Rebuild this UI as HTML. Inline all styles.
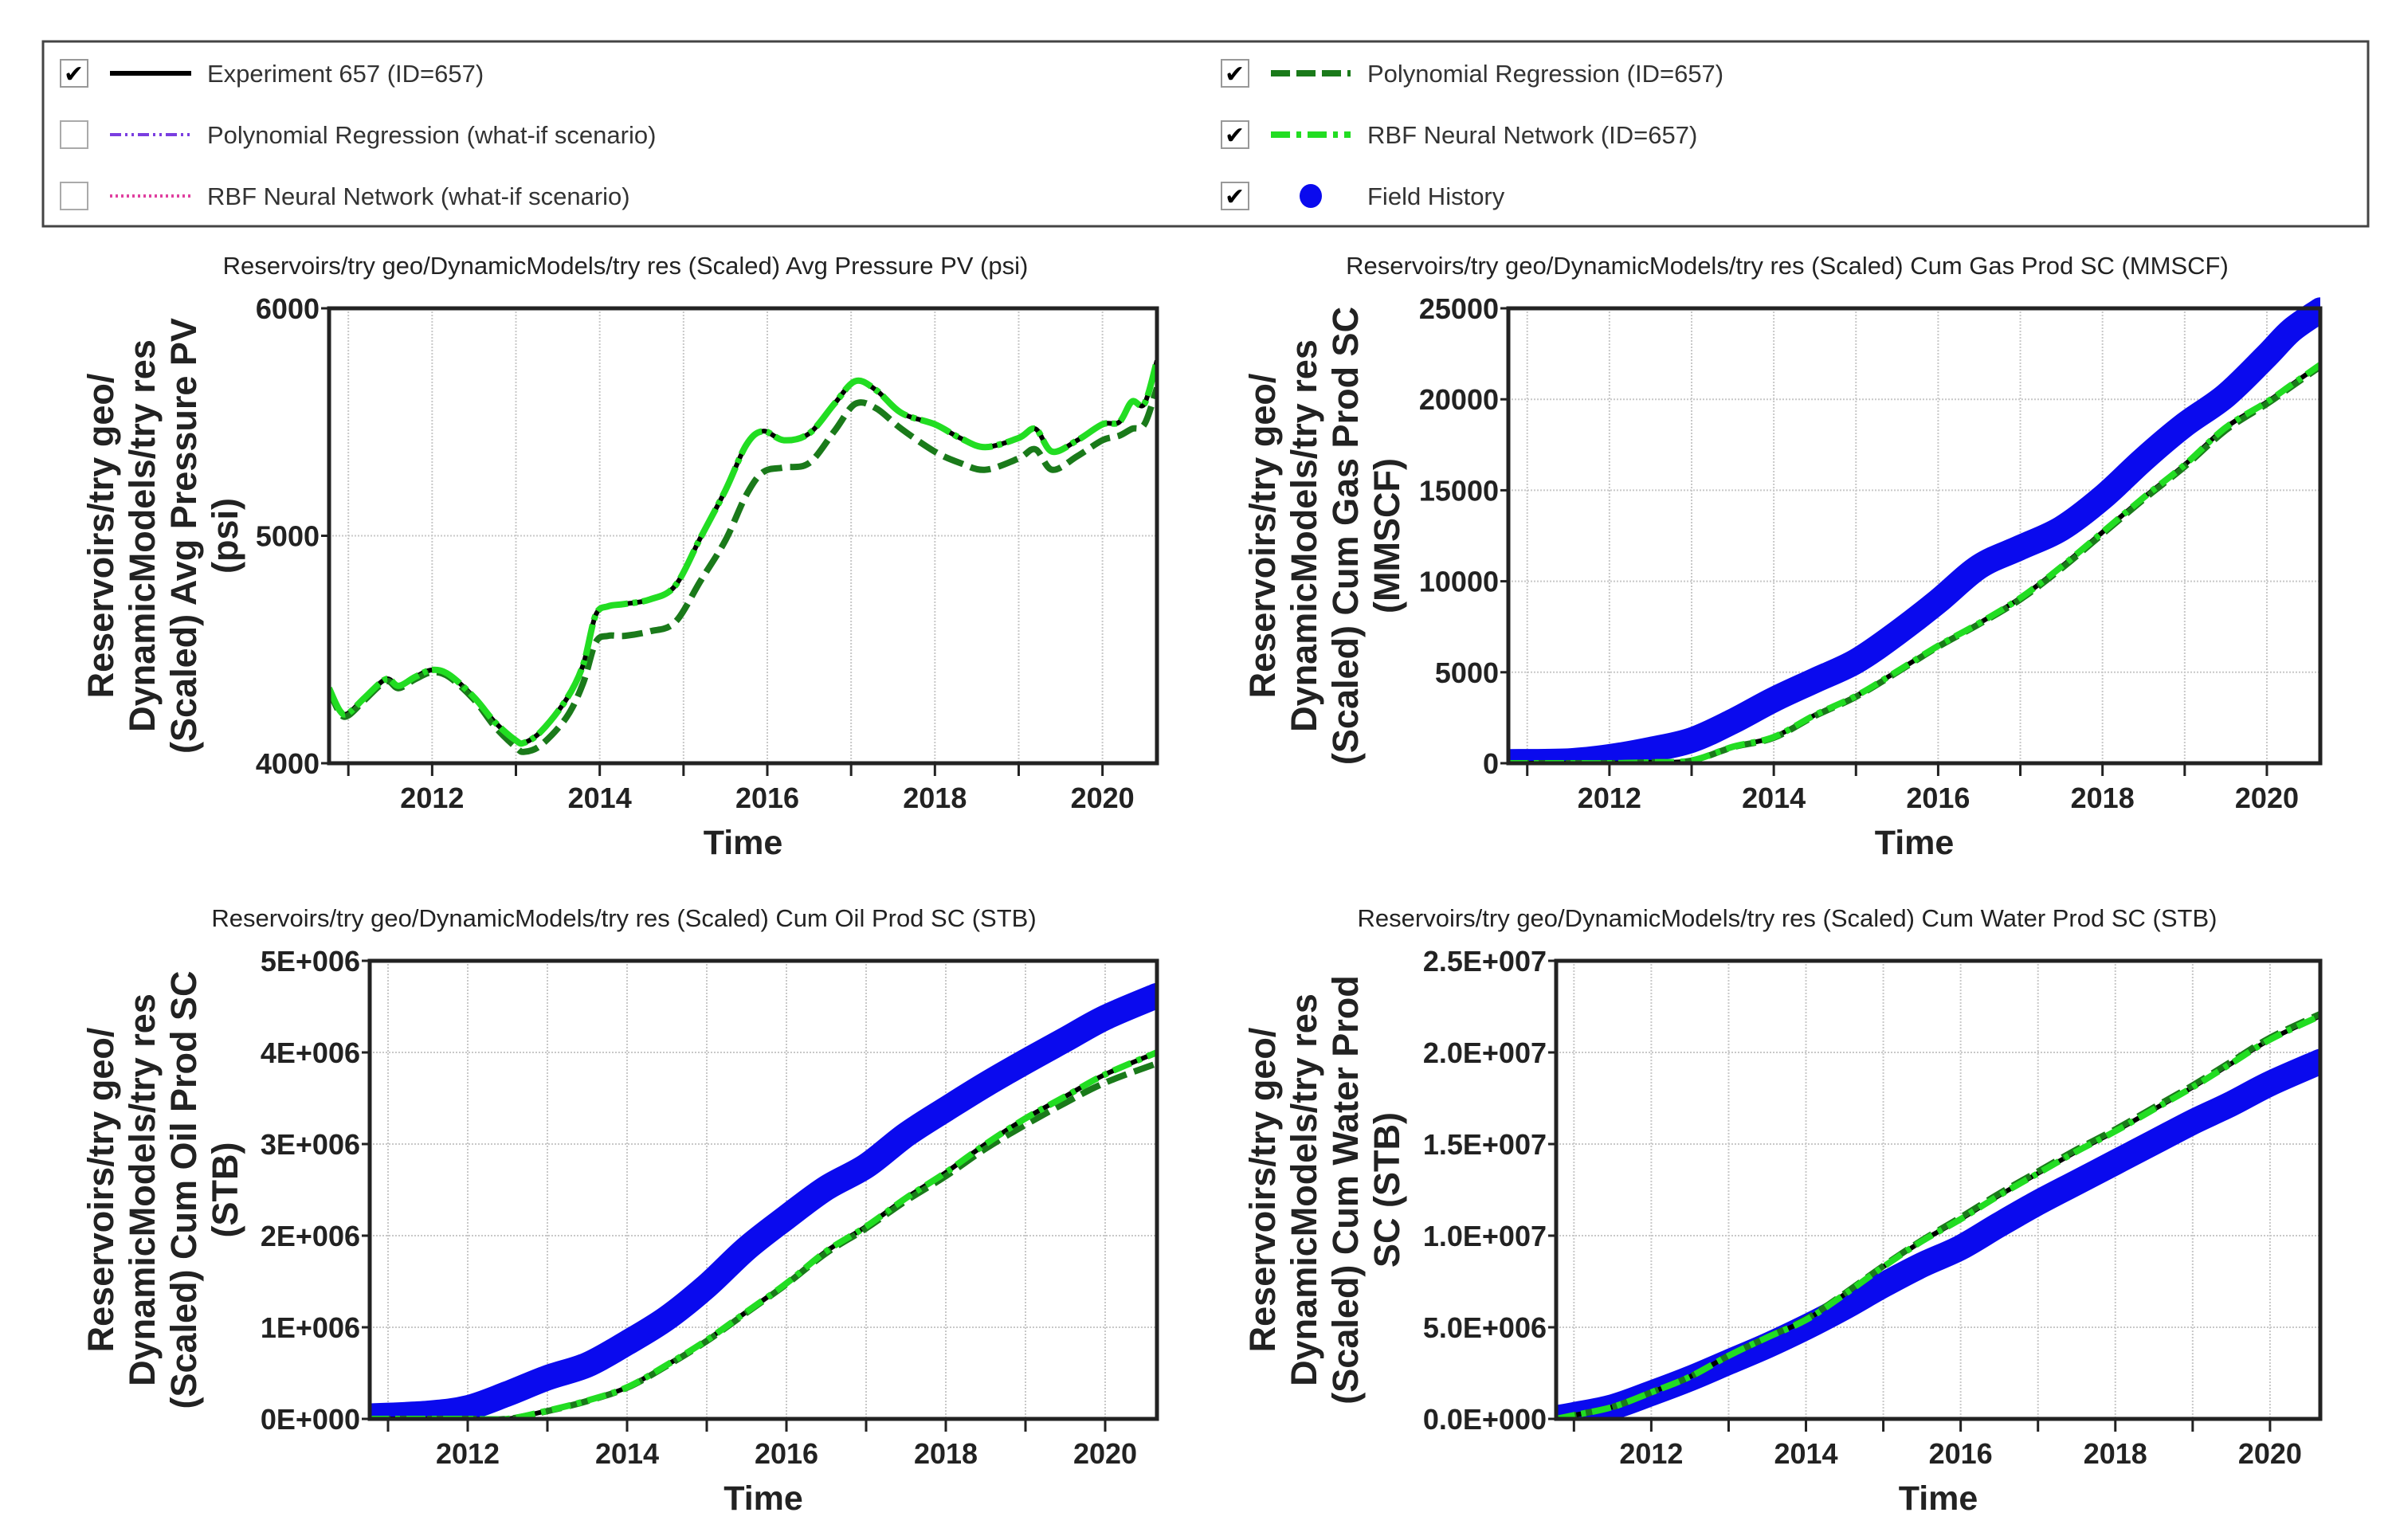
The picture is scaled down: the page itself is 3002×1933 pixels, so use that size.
<!DOCTYPE html>
<html><head><meta charset="utf-8">
<style>
html,body{margin:0;padding:0;background:#fff;}
svg{display:block;font-family:"Liberation Sans",sans-serif;}
</style></head>
<body>
<svg id="root" width="3002" height="1933" viewBox="0 0 3002 1933" xmlns="http://www.w3.org/2000/svg">
<g>
  <rect x="54" y="52" width="2918" height="232" fill="#fff" stroke="#444" stroke-width="3"/>
  <g>
    <rect x="76" y="75" width="34" height="34" fill="#fff" stroke="#999" stroke-width="2"/>
    <text x="80" y="103" font-size="30">✔</text>
    <line x1="138" y1="92" x2="240" y2="92" stroke="#000" stroke-width="6"/>
    <text x="260" y="103" font-size="31" fill="#333">Experiment 657 (ID=657)</text>
  </g>
  <g>
    <rect x="76" y="152" width="34" height="34" fill="#fff" stroke="#aaa" stroke-width="2"/>
    <line x1="138" y1="169" x2="240" y2="169" stroke="#7a3ee0" stroke-width="4" stroke-dasharray="14 5 3 5 3 5"/>
    <text x="260" y="180" font-size="31" fill="#333">Polynomial Regression (what-if scenario)</text>
  </g>
  <g>
    <rect x="76" y="229" width="34" height="34" fill="#fff" stroke="#aaa" stroke-width="2"/>
    <line x1="138" y1="246" x2="240" y2="246" stroke="#e040a0" stroke-width="4" stroke-dasharray="3 4"/>
    <text x="260" y="257" font-size="31" fill="#333">RBF Neural Network (what-if scenario)</text>
  </g>
  <g>
    <rect x="1533" y="75" width="34" height="34" fill="#fff" stroke="#999" stroke-width="2"/>
    <text x="1537" y="103" font-size="30">✔</text>
    <line x1="1595" y1="92" x2="1695" y2="92" stroke="#1a7a1a" stroke-width="8" stroke-dasharray="24 8"/>
    <text x="1716" y="103" font-size="31" fill="#333">Polynomial Regression (ID=657)</text>
  </g>
  <g>
    <rect x="1533" y="152" width="34" height="34" fill="#fff" stroke="#999" stroke-width="2"/>
    <text x="1537" y="180" font-size="30">✔</text>
    <line x1="1595" y1="169" x2="1695" y2="169" stroke="#22dd22" stroke-width="8" stroke-dasharray="24 8 6 8"/>
    <text x="1716" y="180" font-size="31" fill="#333">RBF Neural Network (ID=657)</text>
  </g>
  <g>
    <rect x="1533" y="229" width="34" height="34" fill="#fff" stroke="#999" stroke-width="2"/>
    <text x="1537" y="257" font-size="30">✔</text>
    <ellipse cx="1645" cy="246" rx="14" ry="15" fill="#0a0aee"/>
    <text x="1716" y="257" font-size="31" fill="#333">Field History</text>
  </g>
</g>
</svg>
<script>
const xDomain = [2010.77, 2020.65];
const xTickYears = [2011,2012,2013,2014,2015,2016,2017,2018,2019,2020];
const xLabelYears = [2012,2014,2016,2018,2020];

const presYears = [2010.77,2010.9,2011.0,2011.2,2011.45,2011.6,2011.8,2012.0,2012.2,2012.5,2012.75,2013.0,2013.1,2013.3,2013.6,2013.8,2013.95,2014.1,2014.3,2014.6,2014.9,2015.2,2015.5,2015.75,2015.95,2016.2,2016.5,2016.8,2017.05,2017.3,2017.6,2018.0,2018.3,2018.6,2019.0,2019.2,2019.4,2019.7,2020.0,2020.2,2020.35,2020.5,2020.65];
const presRbf = [4330,4230,4220,4290,4370,4340,4380,4410,4390,4290,4180,4100,4090,4140,4280,4430,4650,4690,4700,4720,4780,4990,5200,5400,5460,5420,5450,5580,5680,5640,5540,5490,5430,5390,5430,5470,5370,5420,5490,5500,5590,5580,5770];
const presPoly = [4320,4220,4210,4280,4360,4330,4370,4400,4380,4280,4160,4070,4050,4080,4200,4350,4530,4560,4560,4580,4620,4800,4980,5180,5280,5300,5320,5460,5580,5560,5470,5370,5320,5290,5340,5380,5290,5350,5420,5440,5470,5490,5650];
const presTicks = [4000,5000,6000];
const presTickLabels = ["4000","5000","6000"];

const gasYears = [2010.77,2011.5,2012.0,2012.5,2013.0,2013.5,2014.0,2014.5,2015.0,2015.5,2016.0,2016.5,2017.0,2017.5,2018.0,2018.5,2019.0,2019.5,2020.0,2020.3,2020.65];
const gasHist = [80,120,350,750,1270,2300,3500,4550,5600,7150,8900,10800,11850,12900,14600,16700,18600,20200,22400,23800,24900];
const gasRbf = [0,0,0,50,150,900,1440,2650,3700,5050,6450,7700,9080,10800,12700,14600,16400,18450,19850,20800,21900];
const gasPoly = [0,0,0,50,140,880,1400,2600,3650,5000,6400,7650,9000,10700,12600,14500,16300,18300,19750,20700,21800];
const gasTicks = [0,5000,10000,15000,20000,25000];
const gasTickLabels = ["0","5000","10000","15000","20000","25000"];

const oilYears = [2010.77,2011.5,2012.0,2012.5,2013.0,2013.5,2014.0,2014.5,2015.0,2015.5,2016.0,2016.5,2017.0,2017.5,2018.0,2018.5,2019.0,2019.5,2020.0,2020.65];
const oilHist = [30000,60000,120000,275000,450000,590000,830000,1100000,1450000,1860000,2200000,2520000,2760000,3100000,3380000,3650000,3900000,4140000,4380000,4620000];
const oilRbf = [0,0,0,0,90000,200000,345000,590000,860000,1170000,1480000,1830000,2100000,2410000,2690000,3000000,3280000,3520000,3760000,4000000];
const oilPoly = [0,0,0,0,85000,195000,340000,580000,850000,1160000,1470000,1810000,2080000,2380000,2650000,2950000,3210000,3450000,3670000,3880000];
const oilTicks = [0,1000000,2000000,3000000,4000000,5000000];
const oilTickLabels = ["0E+000","1E+006","2E+006","3E+006","4E+006","5E+006"];

const watYears = [2010.77,2011.0,2011.5,2012.0,2012.5,2013.0,2013.5,2014.0,2014.5,2015.0,2015.5,2016.0,2016.5,2017.0,2017.5,2018.0,2018.5,2019.0,2019.5,2020.0,2020.65];
const watHist = [50000,220000,650000,1400000,2200000,3100000,4000000,5000000,6100000,7300000,8400000,9350000,10600000,11800000,12900000,14000000,15100000,16200000,17200000,18300000,19500000];
const watRbf = [0,200000,650000,1450000,2300000,3450000,4450000,5400000,6800000,8300000,9700000,10900000,12200000,13400000,14600000,15700000,16900000,18100000,19400000,20700000,22000000];
const watPoly = [0,200000,650000,1450000,2300000,3450000,4450000,5450000,6850000,8350000,9750000,11000000,12300000,13500000,14700000,15800000,17000000,18200000,19500000,20800000,22100000];
const watTicks = [0,5000000,10000000,15000000,20000000,25000000];
const watTickLabels = ["0.0E+000","5.0E+006","1.0E+007","1.5E+007","2.0E+007","2.5E+007"];

const NS = "http://www.w3.org/2000/svg";
const root = document.getElementById('root');
function mk(tag, attrs, parent){
  const e = document.createElementNS(NS, tag);
  for (const k in attrs) e.setAttribute(k, attrs[k]);
  (parent||root).appendChild(e);
  return e;
}
function pathFrom(xs, ys, sx, sy){
  const P = xs.map((x,i)=>[sx(x), sy(ys[i])]);
  let d = 'M'+P[0][0].toFixed(1)+' '+P[0][1].toFixed(1);
  for (let i=0;i<P.length-1;i++){
    const p0=P[Math.max(0,i-1)], p1=P[i], p2=P[i+1], p3=P[Math.min(P.length-1,i+2)];
    const c1=[p1[0]+(p2[0]-p0[0])/6, p1[1]+(p2[1]-p0[1])/6];
    const c2=[p2[0]-(p3[0]-p1[0])/6, p2[1]-(p3[1]-p1[1])/6];
    d += ' C'+c1[0].toFixed(1)+' '+c1[1].toFixed(1)+' '+c2[0].toFixed(1)+' '+c2[1].toFixed(1)+' '+p2[0].toFixed(1)+' '+p2[1].toFixed(1);
  }
  return d;
}

function drawChart(cfg){
  const g = mk('g', {});
  
  
  const L=cfg.box[0], T=cfg.box[1], R=cfg.box[2], B=cfg.box[3];
  const sx = v => L + (v - xDomain[0]) / (xDomain[1]-xDomain[0]) * (R-L);
  const sy = v => B - (v - cfg.yDomain[0]) / (cfg.yDomain[1]-cfg.yDomain[0]) * (B-T);

  const title = mk('text', {x:cfg.titleX, y:T-43, 'font-size':31, 'text-anchor':'middle', fill:'#222'}, g);
  title.textContent = cfg.title;
  
  

  const grid = mk('g', {stroke:'#c8c8c8', 'stroke-width':2, 'stroke-dasharray':'2 2'}, g);
  
  
  xTickYears.forEach(yr => { const x=sx(yr); mk('line',{x1:x,y1:T,x2:x,y2:B},grid); });
  cfg.yTicks.forEach(v => { const y=sy(v); mk('line',{x1:L,y1:y,x2:R,y2:y},grid); });

  const cid = 'clip-'+cfg.name;
  const cp = mk('clipPath', {id:cid}, g);
  mk('rect', {x:L, y:T-20, width:R-L, height:B-T+20}, cp);
  const series = mk('g', {'clip-path':'url(#'+cid+')', fill:'none', 'stroke-linejoin':'round'}, g);

  if (cfg.hist){
    const h = mk('path', {d:pathFrom(cfg.xs, cfg.hist, sx, sy), stroke:'#0a0aee', 'stroke-width':32, 'stroke-linecap':'round'}, series);
    
    
  }
  const ex = mk('path', {d:pathFrom(cfg.xs, cfg.rbf, sx, sy), stroke:'#000', 'stroke-width':6}, series);
  
  
  const p = mk('path', {d:pathFrom(cfg.xs, cfg.poly, sx, sy), stroke:'#1a7a1a', 'stroke-width':8, 'stroke-dasharray':'26 10'}, series);
  
  
  const r = mk('path', {d:pathFrom(cfg.xs, cfg.rbf, sx, sy), stroke:'#22dd22', 'stroke-width':8, 'stroke-dasharray':cfg.rbfDash}, series);
  
  

  const fr = mk('rect', {x:L, y:T, width:R-L, height:B-T, fill:'none', stroke:'#222', 'stroke-width':5}, g);
  
  

  cfg.yTicks.forEach((v,i) => {
    const y = sy(v);
    mk('line', {x1:L-10, y1:y, x2:L, y2:y, stroke:'#222', 'stroke-width':3}, g);
    const t = mk('text', {x:L-12, y:y+13, 'font-size':36, 'font-weight':'bold', 'text-anchor':'end', fill:'#222'}, g);
    t.textContent = cfg.yTickLabels[i];
    
    
  });
  xTickYears.forEach(yr => {
    const x = sx(yr);
    mk('line', {x1:x, y1:B, x2:x, y2:B+16, stroke:'#222', 'stroke-width':3}, g);
  });
  xLabelYears.forEach(yr => {
    const t = mk('text', {x:sx(yr), y:B+56, 'font-size':36, 'font-weight':'bold', 'text-anchor':'middle', fill:'#222'}, g);
    t.textContent = String(yr);
    
    
  });
  const xt = mk('text', {x:(L+R)/2, y:B+114, 'font-size':43, 'font-weight':'bold', 'text-anchor':'middle', fill:'#222'}, g);
  xt.textContent = 'Time';
  
  

  const yt = mk('text', {'font-size':45, 'font-weight':'bold', 'text-anchor':'middle', fill:'#222', transform:'translate('+cfg.ylabX+','+((T+B)/2)+') rotate(-90)'}, g);
  
  
  cfg.ylab.forEach((line,i) => {
    const ts = mk('tspan', {x:0, y:(i - (cfg.ylab.length-1)/2)*52 + 16}, yt);
    ts.textContent = line;
  });
}

drawChart({name:'avg-pressure-chart', box:[413,387,1452,958], yDomain:[4000,6000], yTicks:presTicks, yTickLabels:presTickLabels,
  xs:presYears, rbf:presRbf, poly:presPoly, hist:null, rbfDash:'40 6 6 6', titleX:785,
  title:'Reservoirs/try geo/DynamicModels/try res (Scaled) Avg Pressure PV (psi)',
  ylab:['Reservoirs/try geo/','DynamicModels/try res','(Scaled) Avg Pressure PV','(psi)'], ylabX:204});
drawChart({name:'cum-gas-chart', box:[1893,387,2912,958], yDomain:[0,25000], yTicks:gasTicks, yTickLabels:gasTickLabels,
  xs:gasYears, rbf:gasRbf, poly:gasPoly, hist:gasHist, rbfDash:'24 8 6 8', titleX:2243,
  title:'Reservoirs/try geo/DynamicModels/try res (Scaled) Cum Gas Prod SC (MMSCF)',
  ylab:['Reservoirs/try geo/','DynamicModels/try res','(Scaled) Cum Gas Prod SC','(MMSCF)'], ylabX:1662});
drawChart({name:'cum-oil-chart', box:[464,1206,1452,1781], yDomain:[0,5000000], yTicks:oilTicks, yTickLabels:oilTickLabels,
  xs:oilYears, rbf:oilRbf, poly:oilPoly, hist:oilHist, rbfDash:'24 8 6 8', titleX:783,
  title:'Reservoirs/try geo/DynamicModels/try res (Scaled) Cum Oil Prod SC (STB)',
  ylab:['Reservoirs/try geo/','DynamicModels/try res','(Scaled) Cum Oil Prod SC','(STB)'], ylabX:204});
drawChart({name:'cum-water-chart', box:[1953,1206,2912,1781], yDomain:[0,25000000], yTicks:watTicks, yTickLabels:watTickLabels,
  xs:watYears, rbf:watRbf, poly:watPoly, hist:watHist, rbfDash:'24 8 6 8', titleX:2243,
  title:'Reservoirs/try geo/DynamicModels/try res (Scaled) Cum Water Prod SC (STB)',
  ylab:['Reservoirs/try geo/','DynamicModels/try res','(Scaled) Cum Water Prod','SC (STB)'], ylabX:1662});
</script>
</body></html>
